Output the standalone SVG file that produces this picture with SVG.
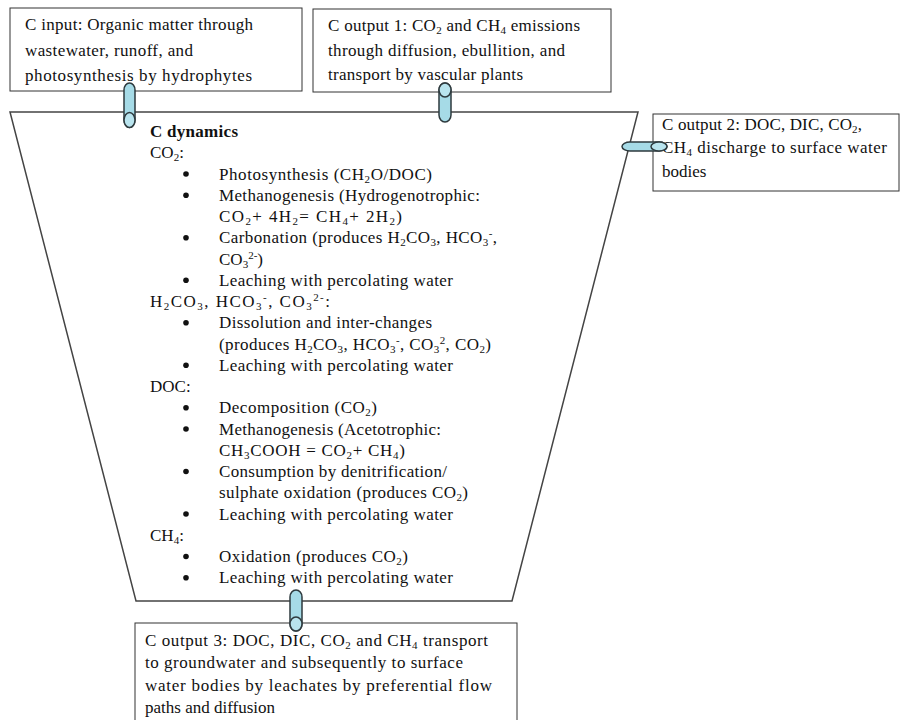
<svg xmlns="http://www.w3.org/2000/svg" width="901" height="720" viewBox="0 0 901 720">
<style>
text{font-family:"Liberation Serif","Times New Roman",serif;font-size:17px;fill:#111}
.b{font-weight:bold}
.sb{font-size:11px;baseline-shift:-3px}
.sp{font-size:11px;baseline-shift:6px}
.box{fill:#fff;stroke:#333;stroke-width:1}
.trap{fill:#fff;stroke:#444;stroke-width:1.5}
.cyl{fill:#a6dbe7;stroke:#2e3a3e;stroke-width:1.5}
.face{fill:#b9e4ee;stroke:#2e3a3e;stroke-width:1.5}
.bul{fill:#111}
</style>
<rect width="901" height="720" fill="#fff"/>
<g id="dynamics">
<polygon class="trap" points="10,112 638,112 512,601 136,601"/>
<text class="b" x="150" y="137" textLength="88" lengthAdjust="spacing">C dynamics</text>
<text x="150" y="158.3">CO<tspan class="sb">2</tspan>:</text>
<circle class="bul" cx="186" cy="174" r="2.8"/>
<text x="219" y="179.5" textLength="213" lengthAdjust="spacing">Photosynthesis (CH<tspan class="sb">2</tspan>O/DOC)</text>
<circle class="bul" cx="186" cy="195.3" r="2.8"/>
<text x="219" y="200.8" textLength="261" lengthAdjust="spacing">Methanogenesis (Hydrogenotrophic:</text>
<text x="219" y="222" textLength="183" lengthAdjust="spacing">CO<tspan class="sb">2</tspan>+ 4H<tspan class="sb">2</tspan>= CH<tspan class="sb">4</tspan>+ 2H<tspan class="sb">2</tspan>)</text>
<circle class="bul" cx="186" cy="237.8" r="2.8"/>
<text x="219" y="243.3" textLength="278" lengthAdjust="spacing">Carbonation (produces H<tspan class="sb">2</tspan>CO<tspan class="sb">3</tspan>, HCO<tspan class="sb">3</tspan><tspan class="sp">-</tspan>,</text>
<text x="219" y="264.5">CO<tspan class="sb">3</tspan><tspan class="sp">2-</tspan>)</text>
<circle class="bul" cx="186" cy="280.3" r="2.8"/>
<text x="219" y="285.8" textLength="234" lengthAdjust="spacing">Leaching with percolating water</text>
<text x="150" y="307" textLength="180" lengthAdjust="spacing">H<tspan class="sb">2</tspan>CO<tspan class="sb">3</tspan>, HCO<tspan class="sb">3</tspan><tspan class="sp">-</tspan>, CO<tspan class="sb">3</tspan><tspan class="sp">2-</tspan>:</text>
<circle class="bul" cx="186" cy="322.8" r="2.8"/>
<text x="219" y="328.3" textLength="213" lengthAdjust="spacing">Dissolution and inter-changes</text>
<text x="219" y="349.5" textLength="272" lengthAdjust="spacing">(produces H<tspan class="sb">2</tspan>CO<tspan class="sb">3</tspan>, HCO<tspan class="sb">3</tspan><tspan class="sp">-</tspan>, CO<tspan class="sb">3</tspan><tspan class="sp">2</tspan>, CO<tspan class="sb">2</tspan>)</text>
<circle class="bul" cx="186" cy="365.3" r="2.8"/>
<text x="219" y="370.8" textLength="234" lengthAdjust="spacing">Leaching with percolating water</text>
<text x="150" y="392">DOC:</text>
<circle class="bul" cx="186" cy="407.8" r="2.8"/>
<text x="219" y="413.3" textLength="158" lengthAdjust="spacing">Decomposition (CO<tspan class="sb">2</tspan>)</text>
<circle class="bul" cx="186" cy="429" r="2.8"/>
<text x="219" y="434.5" textLength="222" lengthAdjust="spacing">Methanogenesis (Acetotrophic:</text>
<text x="219" y="455.8" textLength="186" lengthAdjust="spacing">CH<tspan class="sb">3</tspan>COOH = CO<tspan class="sb">2</tspan>+ CH<tspan class="sb">4</tspan>)</text>
<circle class="bul" cx="186" cy="471.5" r="2.8"/>
<text x="219" y="477" textLength="228" lengthAdjust="spacing">Consumption by denitrification/</text>
<text x="219" y="498.3" textLength="249" lengthAdjust="spacing">sulphate oxidation (produces CO<tspan class="sb">2</tspan>)</text>
<circle class="bul" cx="186" cy="514" r="2.8"/>
<text x="219" y="519.5" textLength="234" lengthAdjust="spacing">Leaching with percolating water</text>
<text x="150" y="540.8">CH<tspan class="sb">4</tspan>:</text>
<circle class="bul" cx="186" cy="556.5" r="2.8"/>
<text x="219" y="562" textLength="189" lengthAdjust="spacing">Oxidation (produces CO<tspan class="sb">2</tspan>)</text>
<circle class="bul" cx="186" cy="577.8" r="2.8"/>
<text x="219" y="583.3" textLength="234" lengthAdjust="spacing">Leaching with percolating water</text>
</g>
<g id="input">
<rect class="box" x="10" y="8" width="292" height="83"/>
<text x="25" y="30" textLength="228" lengthAdjust="spacing">C input: Organic matter through</text>
<text x="25" y="55.5" textLength="168" lengthAdjust="spacing">wastewater, runoff, and</text>
<text x="25" y="81" textLength="227" lengthAdjust="spacing">photosynthesis by hydrophytes</text>
</g>
<g id="output1">
<rect class="box" x="313" y="9" width="298" height="83"/>
<text x="328" y="31" textLength="252" lengthAdjust="spacing">C output 1: CO<tspan class="sb">2</tspan> and CH<tspan class="sb">4</tspan> emissions</text>
<text x="328" y="56" textLength="237" lengthAdjust="spacing">through diffusion, ebullition, and</text>
<text x="328" y="80" textLength="195" lengthAdjust="spacing">transport by vascular plants</text>
</g>
<g id="output2">
<rect class="box" x="653" y="114" width="246" height="77"/>
<text x="662" y="130" textLength="200" lengthAdjust="spacing">C output 2: DOC, DIC, CO<tspan class="sb">2</tspan>,</text>
<text x="662" y="153" textLength="225" lengthAdjust="spacing">CH<tspan class="sb">4</tspan> discharge to surface water</text>
<text x="662" y="177">bodies</text>
</g>
<g id="output3">
<rect class="box" x="135" y="623" width="382" height="110"/>
<text x="145" y="646" textLength="343" lengthAdjust="spacing">C output 3: DOC, DIC, CO<tspan class="sb">2</tspan> and CH<tspan class="sb">4</tspan> transport</text>
<text x="145" y="668" textLength="318" lengthAdjust="spacing">to groundwater and subsequently to surface</text>
<text x="145" y="691" textLength="347" lengthAdjust="spacing">water bodies by leachates by preferential flow</text>
<text x="145" y="713" textLength="130" lengthAdjust="spacing">paths and diffusion</text>
</g>
<g id="connectors">
<path class="cyl" d="M124,90 A5.5,7 0 0 1 135,90 L135,120 A5.5,7.5 0 0 1 124,120 Z"/>
<ellipse class="face" cx="129.5" cy="120" rx="5.5" ry="7.5"/>
<path class="cyl" d="M439,90 A6,7 0 0 1 451,90 L451,115 A6,7 0 0 1 439,115 Z"/>
<ellipse class="face" cx="445" cy="90" rx="6" ry="7"/>
<path class="cyl" d="M659,142 A8,4.5 0 0 1 659,151 L630,151 A8,4.5 0 0 1 630,142 Z"/>
<ellipse class="face" cx="659" cy="146.5" rx="8" ry="4.5"/>
<path class="cyl" d="M290,597 A6,7 0 0 1 302,597 L302,624 A6,7 0 0 1 290,624 Z"/>
<ellipse class="face" cx="296" cy="624" rx="6" ry="7"/>
</g>
</svg>
